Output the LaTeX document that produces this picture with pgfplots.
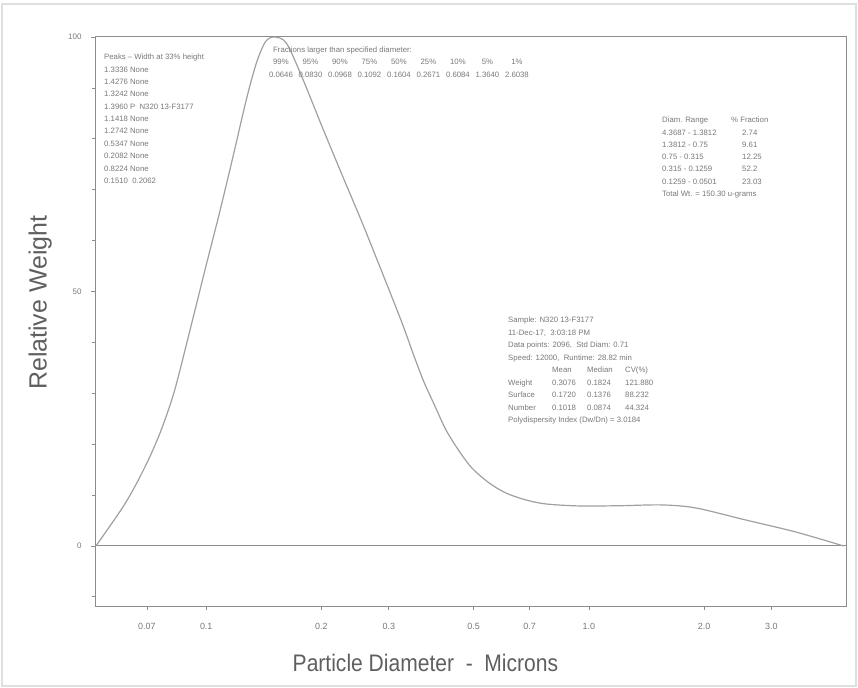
\documentclass[border=0pt]{standalone}
\usepackage{pgfplots}
\pgfplotsset{compat=1.18}
\usepackage{fontspec}
\setmainfont{Liberation Sans}
\usepackage{array}
\definecolor{ln}{RGB}{160,160,160}
\definecolor{ax}{RGB}{140,140,140}
\definecolor{tx}{RGB}{120,120,120}
\definecolor{lab}{RGB}{95,95,95}
\begin{document}
\begin{tikzpicture}[x=1bp,y=1bp]
\path (0,0) rectangle (858,688);
\draw[gray!25, line width=1.5bp] (2,2) rectangle (856,684);
\begin{axis}[at={(95bp,82bp)}, anchor=south west, scale only axis,
  width=751bp, height=570bp,
  xmode=log, xmin=0.0512, xmax=4.70, ymin=-11.8, ymax=100.2,
  axis line style={ax, line width=0.9bp},
  xtick={0.07,0.1,0.2,0.3,0.5,0.7,1,2,3},
  xticklabels={0.07,0.1,0.2,0.3,0.5,0.7,1.0,2.0,3.0},
  minor xtick={},
  ytick={0,50,100}, yticklabels={0,50,100},
  minor ytick={-10,10,20,30,40,60,70,80,90},
  tick align=outside, major tick length=4bp, minor tick length=3bp,
  tick style={ax, line width=0.7bp},
  xtick pos=bottom, ytick pos=left,
  xticklabel style={font=\fontsize{9}{10}\selectfont, text=tx, yshift=-10bp},
  yticklabel style={font=\fontsize{8}{9}\selectfont, text=tx, xshift=-6bp},
  xlabel={\scalebox{0.88}[1]{Particle Diameter \ - \ Microns}},
  ylabel={Relative Weight},
  xlabel style={at={(axis description cs:0.44,-0.10)}, anchor=center,
    font=\fontsize{24}{26}\selectfont, text=lab},
  ylabel style={at={(axis description cs:-0.073,0.532)}, anchor=center, rotate=0,
    font=\fontsize{25}{27}\selectfont, text=lab},
  clip=false,
]
\addplot[ax, line width=0.9bp, forget plot] coordinates {(0.0512,0) (4.70,0)};
\addplot[ln, line width=1.2bp, smooth, tension=0.5] coordinates {
(0.0515,0) (0.06036,7.47) (0.06566,12.2) (0.07099,17.3) (0.07628,22.8)
(0.08248,30.3) (0.09027,41.8) (0.100,55.2) (0.1081,65.2) (0.1169,75.8)
(0.1272,87.6) (0.1350,94.7) (0.1426,99.0) (0.1505,100) (0.162,98.8)
(0.178,92.1) (0.201,82.3) (0.2265,72.9) (0.255,63.7) (0.288,53.8)
(0.325,43.8) (0.3492,37.3) (0.3708,32.2) (0.3938,27.9) (0.4232,22.8)
(0.4576,18.7) (0.4949,15.3) (0.5482,12.4) (0.6071,10.4) (0.6847,9.04)
(0.7722,8.25) (0.9416,7.86) (1.20,7.9) (1.551,8.06) (1.902,7.47)
(2.57,5.1) (3.47,2.75) (4.63,0)
};
\end{axis}
% annotations
\node[anchor=north west, inner sep=0, font=\fontsize{7.8}{12.4}\selectfont, text=tx, align=left]
 at (104,634) {Peaks -- Width at 33\% height\\ 1.3336 None\\ 1.4276 None\\ 1.3242 None\\
 1.3960 P \ N320 13-F3177\\ 1.1418 None\\ 1.2742 None\\ 0.5347 None\\ 0.2082 None\\ 0.8224 None\\ 0.1510 \ 0.2062};
\node[anchor=north west, inner sep=0, font=\fontsize{7.8}{12.8}\selectfont, text=tx]
 at (266,645) {\setlength\tabcolsep{0pt}\renewcommand\arraystretch{1}%
 \begin{tabular}{*{9}{>{\centering\arraybackslash}p{29.5bp}}}
 \multicolumn{9}{@{\hspace{7bp}}l}{Fractions larger than specified diameter:}\\
 99\% & 95\% & 90\% & 75\% & 50\% & 25\% & 10\% & 5\% & 1\%\\
 0.0646 & 0.0830 & 0.0968 & 0.1092 & 0.1604 & 0.2671 & 0.6084 & 1.3640 & 2.6038
 \end{tabular}};
\node[anchor=north west, inner sep=0, font=\fontsize{7.8}{12.3}\selectfont, text=tx]
 at (662,574) {\setlength\tabcolsep{0pt}%
 \begin{tabular}{p{69bp}l}
 Diam. Range & \% Fraction\\
 4.3687 - 1.3812 & \hspace{11bp}2.74\\
 1.3812 - 0.75 & \hspace{11bp}9.61\\
 0.75 - 0.315 & \hspace{11bp}12.25\\
 0.315 - 0.1259 & \hspace{11bp}52.2\\
 0.1259 - 0.0501 & \hspace{11bp}23.03\\
 \multicolumn{2}{l}{Total Wt. = 150.30 u-grams}
 \end{tabular}};
\node[anchor=north west, inner sep=0, font=\fontsize{7.8}{12.5}\selectfont, text=tx]
 at (508,374) {\setlength\tabcolsep{0pt}%
 \begin{tabular}{p{44bp}p{35bp}p{38bp}l}
 \multicolumn{4}{l}{Sample: N320 13-F3177}\\
 \multicolumn{4}{l}{11-Dec-17, \ 3:03:18 PM}\\
 \multicolumn{4}{l}{Data points: 2096, \ Std Diam: 0.71}\\
 \multicolumn{4}{l}{Speed: 12000, \ Runtime: 28.82 min}\\
  & Mean & Median & CV(\%)\\
 Weight & 0.3076 & 0.1824 & 121.880\\
 Surface & 0.1720 & 0.1376 & 88.232\\
 Number & 0.1018 & 0.0874 & 44.324\\
 \multicolumn{4}{l}{Polydispersity Index (Dw/Dn) = 3.0184}
 \end{tabular}};
\end{tikzpicture}
\end{document}
